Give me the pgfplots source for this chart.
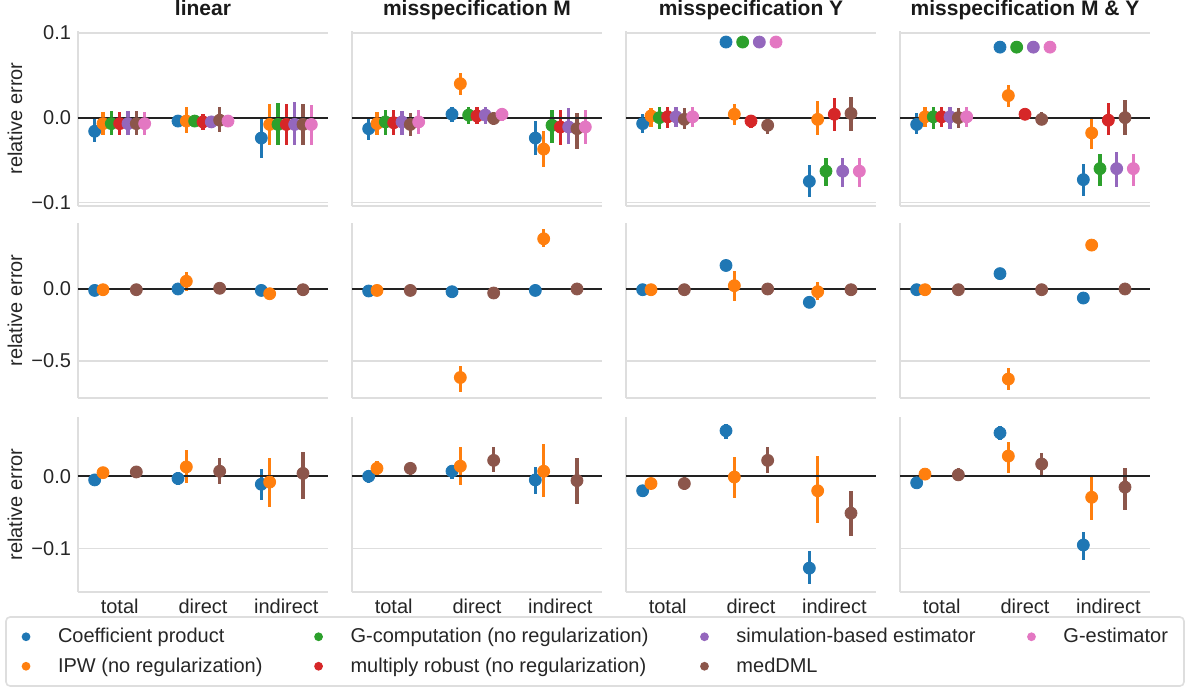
\documentclass[border=0pt]{standalone}
\usepackage{pgfplots}
\pgfplotsset{compat=1.18}
\usepackage{pgfplotstable}
\usepackage{fontspec}
\setmainfont{Liberation Sans}

\definecolor{cb}{HTML}{1F77B4}
\definecolor{co}{HTML}{FF7F0E}
\definecolor{cg}{HTML}{2CA02C}
\definecolor{cr}{HTML}{D62728}
\definecolor{cp}{HTML}{9467BD}
\definecolor{cm}{HTML}{8C564B}
\definecolor{ck}{HTML}{E377C2}
\definecolor{gridc}{HTML}{DEDEDE}
\definecolor{textc}{HTML}{262626}
\definecolor{titc}{HTML}{1A1A1A}
\definecolor{zc}{HTML}{222222}

% ---- row 1: binary - 1D M (value, low, high per estimator)
\pgfplotstableread{
c b bl bh o ol oh g gl gh r rl rh p pl ph m ml mh k kl kh
0 -0.016 -0.029 0.000 -0.007 -0.020 0.007 -0.007 -0.021 0.008 -0.007 -0.020 0.007 -0.007 -0.020 0.008 -0.007 -0.020 0.008 -0.007 -0.020 0.007
1 -0.004 -0.010 0.003 -0.004 -0.018 0.013 -0.004 -0.010 0.003 -0.005 -0.015 0.004 -0.005 -0.012 0.002 -0.003 -0.017 0.012 -0.004 -0.010 0.003
2 -0.024 -0.047 -0.001 -0.008 -0.032 0.016 -0.008 -0.032 0.017 -0.008 -0.032 0.016 -0.008 -0.032 0.019 -0.008 -0.032 0.016 -0.008 -0.032 0.015
}\TabAa
\pgfplotstableread{
c b bl bh o ol oh g gl gh r rl rh p pl ph m ml mh k kl kh
0 -0.013 -0.026 0.001 -0.007 -0.020 0.007 -0.005 -0.020 0.009 -0.006 -0.020 0.009 -0.005 -0.020 0.008 -0.008 -0.022 0.005 -0.005 -0.019 0.009
1 0.004 -0.005 0.012 0.040 0.027 0.052 0.003 -0.007 0.012 0.002 -0.008 0.012 0.003 -0.007 0.012 -0.001 -0.009 0.007 0.004 -0.004 0.011
2 -0.024 -0.044 -0.004 -0.037 -0.058 -0.016 -0.009 -0.030 0.009 -0.011 -0.032 0.009 -0.011 -0.031 0.011 -0.013 -0.037 0.006 -0.011 -0.031 0.009
}\TabAb
\pgfplotstableread{
c b bl bh o ol oh g gl gh r rl rh p pl ph m ml mh k kl kh
0 -0.007 -0.018 0.004 0.002 -0.011 0.011 0.000 -0.013 0.013 0.001 -0.012 0.013 0.001 -0.011 0.012 -0.002 -0.013 0.011 0.001 -0.011 0.012
1 0.089 0.083 0.095 0.004 -0.009 0.016 0.089 0.083 0.095 -0.004 -0.012 0.003 0.089 0.083 0.095 -0.009 -0.019 0.000 0.089 0.083 0.095
2 -0.075 -0.093 -0.056 -0.002 -0.021 0.020 -0.063 -0.081 -0.047 0.004 -0.016 0.023 -0.063 -0.082 -0.047 0.005 -0.016 0.024 -0.063 -0.082 -0.047
}\TabAc
\pgfplotstableread{
c b bl bh o ol oh g gl gh r rl rh p pl ph m ml mh k kl kh
0 -0.008 -0.019 0.005 0.001 -0.011 0.012 0.001 -0.013 0.013 0.001 -0.011 0.012 0.001 -0.013 0.013 0.000 -0.012 0.011 0.001 -0.011 0.012
1 0.083 0.076 0.090 0.026 0.013 0.038 0.083 0.076 0.090 0.004 -0.003 0.010 0.083 0.076 0.090 -0.002 -0.009 0.007 0.083 0.076 0.090
2 -0.073 -0.092 -0.055 -0.018 -0.037 0.001 -0.060 -0.081 -0.043 -0.003 -0.020 0.017 -0.060 -0.082 -0.041 0.000 -0.021 0.021 -0.060 -0.081 -0.043
}\TabAd
% ---- row 2: continuous - 1D M
\pgfplotstableread{
c b bl bh o ol oh m ml mh
0 -0.010 -0.015 -0.005 -0.005 -0.010 0.000 -0.005 -0.010 0.000
1 0.000 -0.005 0.005 0.054 -0.016 0.117 0.005 0.000 0.010
2 -0.010 -0.015 -0.005 -0.033 -0.055 -0.005 -0.005 -0.010 0.000
}\TabBa
\pgfplotstableread{
c b bl bh o ol oh m ml mh
0 -0.014 -0.020 -0.008 -0.010 -0.016 -0.004 -0.010 -0.016 -0.004
1 -0.019 -0.025 -0.013 -0.617 -0.717 -0.537 -0.028 -0.034 -0.022
2 -0.010 -0.016 -0.004 0.350 0.294 0.416 0.000 -0.006 0.006
}\TabBb
\pgfplotstableread{
c b bl bh o ol oh m ml mh
0 -0.005 -0.010 0.000 -0.005 -0.010 0.000 -0.005 -0.010 0.000
1 0.164 0.158 0.170 0.023 -0.086 0.124 0.000 -0.005 0.005
2 -0.093 -0.099 -0.087 -0.019 -0.075 0.047 -0.005 -0.010 0.000
}\TabBc
\pgfplotstableread{
c b bl bh o ol oh m ml mh
0 -0.005 -0.010 0.000 -0.005 -0.010 0.000 -0.005 -0.010 0.000
1 0.107 0.101 0.113 -0.628 -0.706 -0.554 -0.005 -0.010 0.000
2 -0.063 -0.069 -0.057 0.306 0.264 0.341 0.000 -0.005 0.005
}\TabBd
% ---- row 3: continuous - 5D M
\pgfplotstableread{
c b bl bh o ol oh m ml mh
0 -0.005 -0.012 0.002 0.005 -0.001 0.011 0.006 -0.003 0.014
1 -0.003 -0.012 0.006 0.013 -0.009 0.036 0.007 -0.011 0.025
2 -0.011 -0.033 0.010 -0.008 -0.042 0.025 0.004 -0.032 0.034
}\TabCa
\pgfplotstableread{
c b bl bh o ol oh m ml mh
0 0.000 -0.009 0.009 0.011 0.002 0.021 0.011 0.002 0.020
1 0.007 -0.004 0.013 0.014 -0.012 0.041 0.022 0.006 0.041
2 -0.005 -0.024 0.013 0.007 -0.029 0.044 -0.006 -0.038 0.025
}\TabCb
\pgfplotstableread{
c b bl bh o ol oh m ml mh
0 -0.020 -0.028 -0.012 -0.010 -0.016 -0.003 -0.010 -0.019 -0.001
1 0.063 0.052 0.073 -0.001 -0.030 0.027 0.022 0.005 0.040
2 -0.127 -0.149 -0.103 -0.020 -0.064 0.028 -0.051 -0.082 -0.021
}\TabCc
\pgfplotstableread{
c b bl bh o ol oh m ml mh
0 -0.009 -0.016 -0.002 0.003 -0.003 0.009 0.002 -0.007 0.011
1 0.060 0.050 0.070 0.028 0.005 0.047 0.017 0.000 0.032
2 -0.095 -0.116 -0.077 -0.029 -0.060 0.000 -0.015 -0.046 0.012
}\TabCd

\pgfplotsset{
  mk/.style={only marks, mark=*, mark size=3pt, color=#1,
    error bars/.cd, y dir=both, y explicit, error mark=none,
    error bar style={line width=1.6pt, color=#1}},
  panel/.style={scale only axis, width=125pt, height=87.5pt, anchor=north west,
    xmin=-0.5, xmax=2.5, xtick={0,1,2}, xticklabels={},
    major tick length=0pt, ymajorgrids, grid style={draw=gridc, line width=0.8pt},
    axis lines*=left, axis line style={draw=gridc, line width=0.8pt, -},
    tick label style={font=\fontsize{10}{12}\selectfont, text=textc},
    title style={font=\bfseries\fontsize{10.5}{12}\selectfont, text=titc, anchor=base, at={(0.5,1)}, yshift=2pt},
    every axis y label/.style={at={([xshift=-31.5pt]rel axis cs:0,0.5)}, rotate=90, anchor=center, font=\fontsize{10}{12}\selectfont, text=textc},
  },
  r1/.style={ymin=-0.104, ymax=0.102, ytick={-0.1,0,0.1}, yticklabels={}},
  r2/.style={ymin=-0.76, ymax=0.46, ytick={-0.5,0}, yticklabels={}},
  r3/.style={ymin=-0.16, ymax=0.082, ytick={-0.1,0}, yticklabels={}, xticklabels={total,direct,indirect}},
  lgm/.style={legend image code/.code={\path[draw=none, fill=none] (-4pt,-3pt) rectangle (14pt,3pt); \fill[fill=#1, draw=none] (0pt,0pt) circle (2.2pt);}},
}

\newcommand{\est}[4]{\addplot[mk=#3] table[x expr=\thisrow{c}+(#4), y=#2, y error plus expr=\thisrow{#2h}-\thisrow{#2}, y error minus expr=\thisrow{#2}-\thisrow{#2l}]{#1};}
\newcommand{\seven}[1]{\est{#1}{b}{cb}{-0.3}\est{#1}{o}{co}{-0.2}\est{#1}{g}{cg}{-0.1}\est{#1}{r}{cr}{0}\est{#1}{p}{cp}{0.1}\est{#1}{m}{cm}{0.2}\est{#1}{k}{ck}{0.3}}
\newcommand{\three}[1]{\est{#1}{b}{cb}{-0.3}\est{#1}{o}{co}{-0.2}\est{#1}{m}{cm}{0.2}}
\newcommand{\zeroline}{\addplot[draw=zc, line width=1pt, forget plot] coordinates {(-0.5,0) (2.5,0)};}
\newcommand{\rowlab}[1]{\node[rotate=-90, font=\bfseries\fontsize{10.5}{12}\selectfont, text=titc, anchor=center] at ([xshift=6.5pt]rel axis cs:1,0.5) {#1};}

\begin{document}
\begin{tikzpicture}
\useasboundingbox (0,0) rectangle (594pt,-343pt);
% ===== row 1
\begin{axis}[panel, r1, at={(39pt,-15.5pt)}, title={linear}, ylabel={relative error}, yticklabels={−0.1,0.0,0.1}]
\seven{\TabAa}\zeroline
\end{axis}
\begin{axis}[panel, r1, at={(176pt,-15.5pt)}, title={misspecification M}]
\seven{\TabAb}\zeroline
\end{axis}
\begin{axis}[panel, r1, at={(313pt,-15.5pt)}, title={misspecification Y}]
\seven{\TabAc}\zeroline
\end{axis}
\begin{axis}[panel, r1, at={(450pt,-15.5pt)}, title={misspecification M \& Y}]
\seven{\TabAd}\zeroline
\rowlab{binary - 1D M}
\end{axis}
% ===== row 2
\begin{axis}[panel, r2, at={(39pt,-111.5pt)}, ylabel={relative error}, yticklabels={−0.5,0.0}]
\three{\TabBa}\zeroline
\end{axis}
\begin{axis}[panel, r2, at={(176pt,-111.5pt)}]
\three{\TabBb}\zeroline
\end{axis}
\begin{axis}[panel, r2, at={(313pt,-111.5pt)}]
\three{\TabBc}\zeroline
\end{axis}
\begin{axis}[panel, r2, at={(450pt,-111.5pt)}]
\three{\TabBd}\zeroline
\rowlab{continuous - 1D M}
\end{axis}
% ===== row 3
\begin{axis}[panel, r3, at={(39pt,-208.5pt)}, ylabel={relative error}, yticklabels={−0.1,0.0}]
\three{\TabCa}\zeroline
\end{axis}
\begin{axis}[panel, r3, at={(176pt,-208.5pt)}]
\three{\TabCb}\zeroline
\end{axis}
\begin{axis}[panel, r3, at={(313pt,-208.5pt)}]
\three{\TabCc}\zeroline
\end{axis}
\begin{axis}[panel, r3, at={(450pt,-208.5pt)}]
\three{\TabCd}\zeroline
\rowlab{continuous - 5D M}
\end{axis}
% ===== legend
\begin{axis}[hide axis, scale only axis, width=1pt, height=1pt, at={(297.5pt,-325.75pt)}, anchor=center,
  xmin=0, xmax=1, ymin=0, ymax=1, legend columns=4, legend cell align=left,
  legend style={at={(0.5,0.5)}, anchor=center, draw=gridc, line width=0.8pt, rounded corners=2pt,
    font=\fontsize{10}{12}\selectfont, text=textc, inner xsep=6pt, inner ysep=3.5pt, row sep=2pt,
    /tikz/every even column/.append style={column sep=22pt}}]
\addlegendimage{lgm=cb}\addlegendentry{Coefficient product}
\addlegendimage{lgm=cg}\addlegendentry{G-computation (no regularization)}
\addlegendimage{lgm=cp}\addlegendentry{simulation-based estimator}
\addlegendimage{lgm=ck}\addlegendentry{G-estimator}
\addlegendimage{lgm=co}\addlegendentry{IPW (no regularization)}
\addlegendimage{lgm=cr}\addlegendentry{multiply robust (no regularization)}
\addlegendimage{lgm=cm}\addlegendentry{medDML}
\end{axis}
\end{tikzpicture}
\end{document}
